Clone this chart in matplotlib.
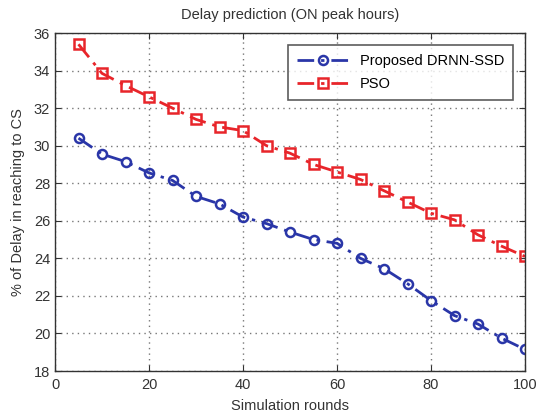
import matplotlib
matplotlib.use("Agg")
import matplotlib.pyplot as plt
import numpy as np

plt.rcParams['font.family'] = ['Liberation Sans', 'DejaVu Sans']

rounds = [5, 10, 15, 20, 25, 30, 35, 40, 45, 50, 55, 60, 65, 70, 75, 80, 85, 90, 95, 100]
drnn_ssd = [30.4, 29.55, 29.15, 28.55, 28.15, 27.3, 26.9, 26.2, 25.85, 25.4,
            25.0, 24.8, 24.0, 23.45, 22.65, 21.75, 20.95, 20.5, 19.75, 19.15]
pso = [35.4, 33.85, 33.2, 32.6, 32.0, 31.4, 31.0, 30.8, 30.0, 29.6,
       29.0, 28.6, 28.2, 27.6, 27.0, 26.4, 26.05, 25.25, 24.65, 24.1]

xticks = [0, 20, 40, 60, 80, 100]
yticks = [18, 20, 22, 24, 26, 28, 30, 32, 34, 36]

fig = plt.figure(figsize=(5.37, 4.2), dpi=100)
ax = fig.add_axes([55/537, 1 - 371/420, 470/537, 338/420])

blue = '#2a36a8'
red = '#e8252a'
dash = (0, (6, 2.5, 1.2, 2.5))
ax.plot(rounds, drnn_ssd, linestyle=dash, color=blue, lw=2, marker='o',
        markersize=6.5, markerfacecolor='none', markeredgewidth=1.8,
        label='Proposed DRNN-SSD')
ax.plot(rounds, pso, linestyle=dash, color=red, lw=2, marker='s',
        markersize=7.5, markerfacecolor='none', markeredgewidth=1.8,
        label='PSO')

ax.set_xlim(0, 100)
ax.set_ylim(18, 36)
ax.set_xticks(xticks)
ax.set_yticks(yticks)
ax.tick_params(axis='both', direction='in', top=True, right=True, labelsize=10.5,
               length=4, colors='#333333')
ax.tick_params(axis='x', pad=5)
ax.grid(True, linestyle=(0, (1, 3)), color='#777777', linewidth=1)
for s in ax.spines.values():
    s.set_color('#333333')
    s.set_linewidth(1)

ax.set_title('Delay prediction (ON peak hours)', fontsize=10.5, color='#333333', pad=10)
ax.set_xlabel('Simulation rounds', fontsize=10.5, color='#333333', labelpad=5)
ax.set_ylabel('% of Delay in reaching to CS', fontsize=10.5, color='#333333', labelpad=6)

leg = ax.legend(loc='upper right', fontsize=10.5, frameon=True, fancybox=False,
                edgecolor='#333333', handlelength=3.5, borderpad=0.6,
                labelspacing=0.6, bbox_to_anchor=(0.99, 0.985))
leg.get_frame().set_linewidth(1.2)

fig.savefig('out.png', dpi=100)
